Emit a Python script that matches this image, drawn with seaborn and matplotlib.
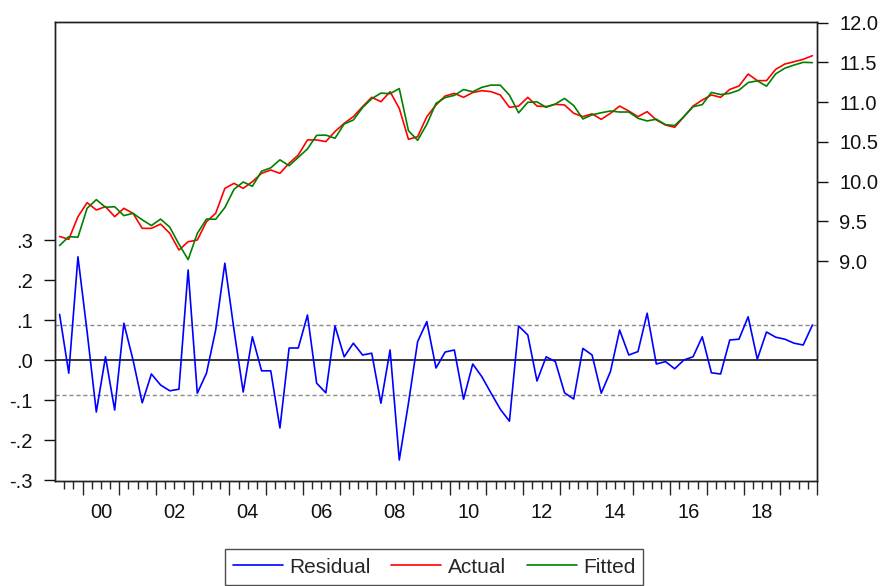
import numpy as np
import pandas as pd
import matplotlib
matplotlib.use("Agg")
import matplotlib.pyplot as plt
import matplotlib.transforms as mtransforms
import seaborn as sns

# Quarterly sample
quarters = pd.period_range("1999Q2", "2019Q4", freq="Q")

residual = [
    0.114, -0.033, 0.258, 0.070, -0.130, 0.008, -0.125, 0.092, 0.000, -0.107,
    -0.035, -0.0625, -0.077, -0.073, 0.225, -0.083, -0.033, 0.075, 0.242, 0.075,
    -0.080, 0.058, -0.027, -0.027, -0.170, 0.030, 0.030, 0.1125, -0.058, -0.082,
    0.085, 0.008, 0.042, 0.0125, 0.017, -0.108, 0.025, -0.250, -0.108, 0.046,
    0.096, -0.020, 0.020, 0.025, -0.098, -0.010, -0.042, -0.083, -0.123, -0.153,
    0.085, 0.0625, -0.0525, 0.008, -0.004, -0.082, -0.0975, 0.029, 0.0125, -0.083,
    -0.029, 0.075, 0.0125, 0.021, 0.117, -0.010, -0.004, -0.022, 0.000, 0.008,
    0.058, -0.032, -0.035, 0.050, 0.052, 0.108, 0.002, 0.070, 0.057, 0.052,
    0.042, 0.0375, 0.0875,
]

actual = [
    9.310, 9.274, 9.559, 9.735, 9.643, 9.685, 9.559, 9.664, 9.601, 9.412,
    9.412, 9.466, 9.350, 9.140, 9.244, 9.265, 9.496, 9.601, 9.915, 9.978,
    9.915, 9.999, 10.104, 10.146, 10.104, 10.230, 10.335, 10.524, 10.524, 10.503,
    10.630, 10.733, 10.817, 10.943, 11.060, 11.005, 11.131, 10.920, 10.532, 10.565,
    10.817, 10.964, 11.077, 11.110, 11.060, 11.120, 11.144, 11.131, 11.090, 10.934,
    10.950, 11.060, 10.950, 10.943, 10.972, 10.964, 10.859, 10.817, 10.852, 10.783,
    10.859, 10.950, 10.888, 10.817, 10.880, 10.775, 10.712, 10.683, 10.817, 10.950,
    11.026, 11.090, 11.060, 11.160, 11.202, 11.353, 11.270, 11.270, 11.412, 11.479,
    11.508, 11.538, 11.584,
]

# S.E. of regression band around the residuals
se_band = 0.087

resid_ticks = [-0.3, -0.2, -0.1, 0.0, 0.1, 0.2, 0.3]
level_ticks = [9.0, 9.5, 10.0, 10.5, 11.0, 11.5, 12.0]
year_labels = list(range(2000, 2019, 2))

df = pd.DataFrame({
    "t": [q.year + (q.quarter - 1) / 4 + 0.125 for q in quarters],
    "Residual": residual,
    "Actual": actual,
})
# Fitted values are actual minus residual by definition
df["Fitted"] = df["Actual"] - df["Residual"]

sns.set_style("ticks")
plt.rcParams["font.family"] = ["Liberation Sans", "DejaVu Sans"]
plt.rcParams["axes.linewidth"] = 1.0

FS = 14.5
LW = 1.2
W, H = 882, 586
fig = plt.figure(figsize=(W / 100, H / 100), dpi=100)
fig.patch.set_facecolor("white")
ax = fig.add_axes([55 / W, (H - 481) / H, 762 / W, 459 / H])

x0, x1 = 1999.25, 2020.0
ax.set_xlim(x0, x1)
ax.set_ylim(-0.3025, 0.845)

ax.axhline(0.0, color="black", lw=1.1, zorder=1)
for v in (se_band, -se_band):
    ax.axhline(v, color="#8a8a8a", lw=1.0, ls=(0, (3, 2)), zorder=1)

sns.lineplot(data=df, x="t", y="Residual", ax=ax, color="#0000ff", lw=LW,
             sort=False, legend=False, zorder=3)

ax2 = ax.twinx()
ax2.set_ylim(6.234, 12.0075)
sns.lineplot(data=df, x="t", y="Actual", ax=ax2, color="#ff0000", lw=LW,
             sort=False, legend=False)
sns.lineplot(data=df, x="t", y="Fitted", ax=ax2, color="#008000", lw=LW,
             sort=False, legend=False)

# Left axis: residual scale
ax.set_yticks(resid_ticks)
ax.set_yticklabels([f"{v:.1f}".replace("0.", ".") for v in resid_ticks])
ax.tick_params(axis="y", direction="out", length=8, width=1.0, pad=8,
               labelsize=FS, colors="#111111")

# Right axis: level scale
ax2.set_yticks(level_ticks)
ax2.set_yticklabels([f"{v:.1f}" for v in level_ticks])
ax2.tick_params(axis="y", direction="out", length=8, width=1.0, pad=8,
                labelsize=FS, colors="#111111")

# Time axis: long ticks at year starts, short ticks at quarters
ax.set_xticks(np.arange(2000, 2021, 1.0))
ax.set_xticks(np.arange(1999.5, 2020.0, 0.25), minor=True)
ax.tick_params(axis="x", which="major", direction="out", length=10, width=1.0,
               labelbottom=False)
ax.tick_params(axis="x", which="minor", direction="out", length=6, width=1.0)
trans = mtransforms.blended_transform_factory(ax.transData, ax.transAxes)
for yr in year_labels:
    ax.annotate(f"{yr % 100:02d}", xy=(yr + 0.5, 0), xycoords=trans,
                xytext=(0, -22.5), textcoords="offset points",
                ha="center", va="center", fontsize=FS, color="#111111")

ax.set_xlabel("")
ax.set_ylabel("")
ax2.set_ylabel("")
for a in (ax, ax2):
    for s in a.spines.values():
        s.set_visible(True)
        s.set_color("#202020")
        s.set_linewidth(1.0)

handles = [ax.get_lines()[-1], ax2.get_lines()[0], ax2.get_lines()[1]]
leg = fig.legend(handles, ["Residual", "Actual", "Fitted"],
                 loc="lower center", bbox_to_anchor=(434 / W, 1 / H), ncol=3,
                 frameon=True, fancybox=False, edgecolor="#202020",
                 fontsize=15, handlelength=2.4, handletextpad=0.3,
                 columnspacing=1.0, borderpad=0.4, borderaxespad=0.0)
leg.get_frame().set_linewidth(1.0)

fig.savefig("out.png", dpi=100, facecolor="white")
